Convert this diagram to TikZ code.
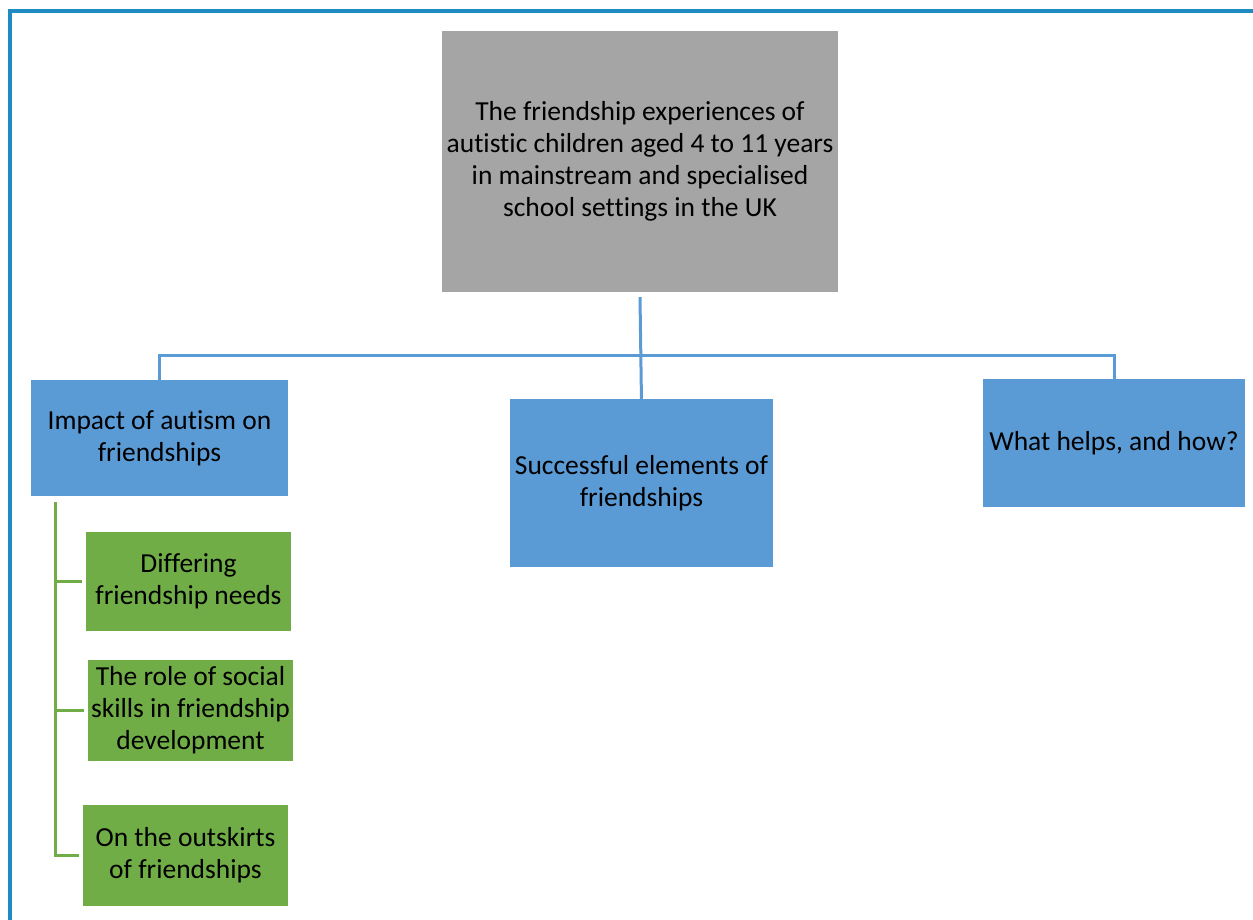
\documentclass[tikz,border=0pt]{standalone}
\usepackage{fontspec}
\setmainfont{Carlito}[Ligatures={NoCommon}]
\definecolor{boxgray}{HTML}{A5A5A5}
\definecolor{boxblue}{HTML}{5B9BD5}
\definecolor{boxgreen}{HTML}{70AD47}
\definecolor{framecol}{HTML}{1E8BC3}
\begin{document}
\begin{tikzpicture}[x=1pt,y=-1pt,
    box/.style={rectangle,inner sep=0pt,align=center,font=\fontsize{27.5}{32}\selectfont},
    link/.style={line width=3pt}]
    \useasboundingbox (0,0) rectangle (1253,919);
    \draw[framecol, line width=3.5pt] (10,1000) -- (10,11) -- (1300,11);

    \node[box, fill=boxgray, minimum width=396pt, minimum height=261pt] (top) at (640,161.5) {The friendship experiences of\\autistic children aged 4 to 11 years\\in mainstream and specialised\\school settings in the UK};
    \node[box, fill=boxblue, minimum width=257pt, minimum height=116pt] (impact) at (159.5,438) {Impact of autism on\\friendships};
    \node[box, fill=boxblue, minimum width=263pt, minimum height=168pt] (success) at (641.5,483) {Successful elements of\\friendships};
    \node[box, fill=boxblue, minimum width=262pt, minimum height=128pt] (helps) at (1114,443) {What helps, and how?};
    \node[box, fill=boxgreen, minimum width=205pt, minimum height=99pt] (needs) at (188.5,581.5) {Differing\\friendship needs};
    \node[box, fill=boxgreen, minimum width=205pt, minimum height=101pt] (skills) at (190.5,710.5) {The role of social\\skills in friendship\\development};
    \node[box, fill=boxgreen, minimum width=205pt, minimum height=101pt] (outskirts) at (185.5,855.5) {On the outskirts\\of friendships};

    \coordinate (bar) at (640,355);
    \coordinate (stem) at (55,502);

    \draw[link, boxblue] ([yshift=-5pt]top.south) -- ([yshift=-4pt]success.north);
    \draw[link, boxblue] ([yshift=-4pt]impact.north) -- (impact.north |- bar) -- (helps.north |- bar) -- ([yshift=-5pt]helps.north);

    \draw[link, boxgreen] (stem) |- ([xshift=-4pt]outskirts.west);
    \draw[link, boxgreen] (stem |- needs.west) -- ([xshift=-4pt]needs.west);
    \draw[link, boxgreen] (stem |- skills.west) -- ([xshift=-4pt]skills.west);
\end{tikzpicture}
\end{document}
